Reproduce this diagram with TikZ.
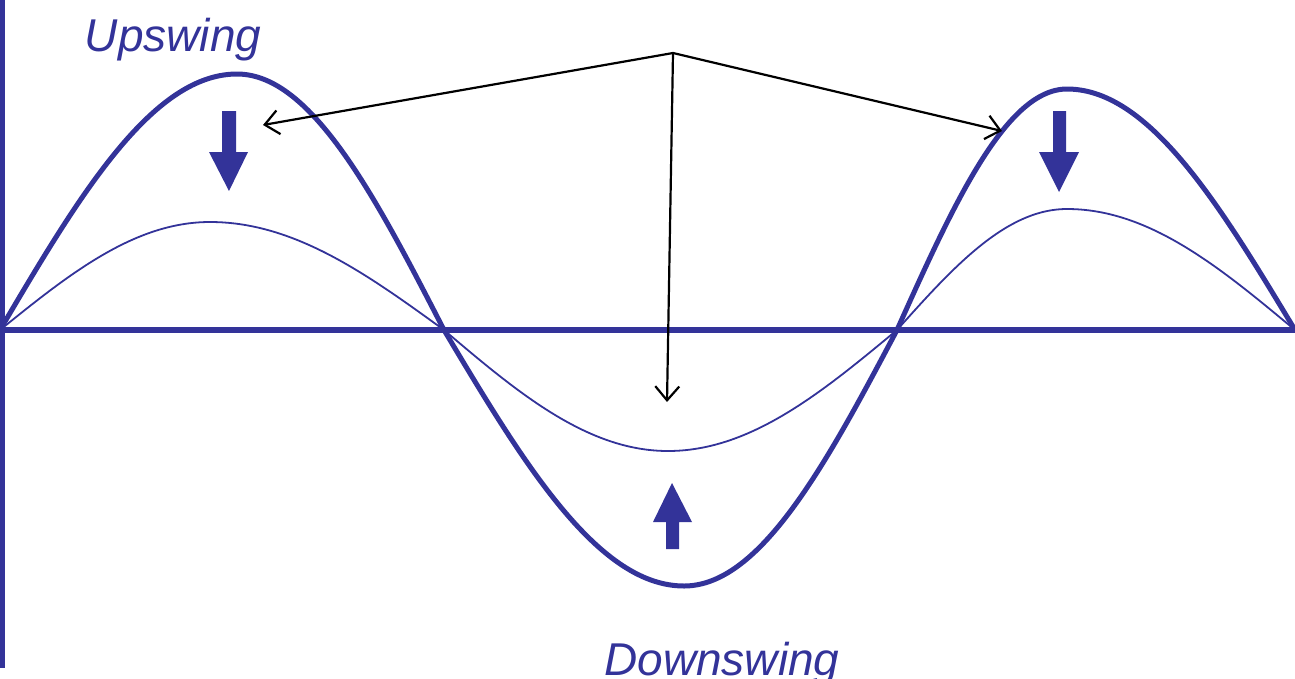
\documentclass[tikz,border=0pt]{standalone}
\usepackage{fontspec}
\setmainfont{Liberation Sans}
\usetikzlibrary{arrows.meta}
\definecolor{wave}{RGB}{51,51,153}
\tikzset{
  thickwave/.style={draw=wave,line width=5pt,line join=round},
  thinwave/.style={draw=wave,line width=1.8pt,line join=round},
  axisline/.style={draw=wave,line width=5pt},
  pointer/.style={draw=black,line width=2.2pt,-{Straight Barb[length=14pt,width=24pt,line width=2.2pt]}},
  blockarrow/.style={fill=wave,draw=none},
  lbl/.style={text=wave,font=\fontsize{46}{50}\selectfont\itshape,inner sep=0pt}
}
\newcommand{\halfwavedraw}[5]{% style a p b amp(signed)
  \draw[#1] plot[domain=#2:#3,samples=80,variable=\t] ({\t},{330-(#5)*sin(((\t-#2)/(#3-#2))*90)})
    -- plot[domain=#3:#4,samples=80,variable=\t] ({\t},{330-(#5)*cos(((\t-#3)/(#4-#3))*90)});}
\begin{document}
\begin{tikzpicture}[x=1pt,y=-1pt]
\useasboundingbox (0,0) rectangle (1295,678);
% axes
\coordinate (ytop) at (2,0);
\coordinate (ybot) at (2,668);
\coordinate (xl) at (0,330);
\coordinate (xr) at (1295,330);
\draw[axisline] (ytop) -- (ybot);
\draw[axisline,line width=6pt] (xl) -- (xr);
% thin curves
\halfwavedraw{thinwave}{0}{210}{444}{108}
\halfwavedraw{thinwave}{444}{668}{897}{-121}
\halfwavedraw{thinwave}{897}{1067}{1295}{121}
% thick curves
\halfwavedraw{thickwave}{0}{237}{444}{256}
\halfwavedraw{thickwave}{444}{684}{897}{-256}
\halfwavedraw{thickwave}{897}{1067}{1295}{241}
% block arrows
\fill[blockarrow] (222,111) -- (236,111) -- (236,152) -- (248,152) -- (229,191) -- (209,152) -- (222,152) -- cycle;
\fill[blockarrow] (1053,111) -- (1066,111) -- (1066,152) -- (1079,152) -- (1059,192) -- (1039,152) -- (1053,152) -- cycle;
\fill[blockarrow] (666,549) -- (679,549) -- (679,522) -- (692,522) -- (672,483) -- (653,522) -- (666,522) -- cycle;
% pointers
\coordinate (o) at (673,53);
\coordinate (t1) at (263,125);
\coordinate (t2) at (1002,131);
\coordinate (t3) at (667,402);
\draw[pointer] (o) -- (t1);
\draw[pointer] (o) -- (t2);
\draw[pointer] (o) -- (t3);
% labels
\node[lbl,anchor=base] (up) at (173,51) {Upswing};
\node[lbl,anchor=base] (down) at (722,675) {Downswing};
\end{tikzpicture}
\end{document}
